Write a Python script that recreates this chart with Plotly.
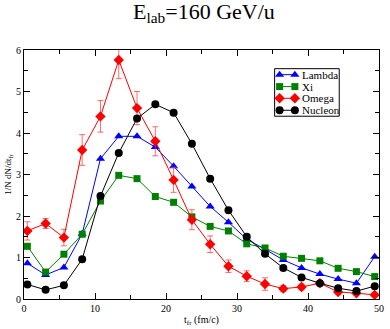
import plotly.graph_objects as go

# time bins (fm/c)
t_fr = [0.47 + 2.575 * i for i in range(20)]

lambda_y = [0.86, 0.58, 0.76, 1.57, 3.38, 3.92, 3.92, 3.66, 3.20, 2.71,
            2.23, 1.85, 1.44, 1.20, 0.94, 0.75, 0.60, 0.48, 0.38, 1.02]
xi_y = [1.27, 0.65, 1.08, 1.56, 2.36, 2.98, 2.90, 2.47, 2.33, 1.98,
        1.75, 1.64, 1.33, 1.23, 1.03, 0.98, 0.92, 0.74, 0.66, 0.54]
omega_y = [1.64, 1.82, 1.48, 3.59, 4.40, 5.76, 4.60, 3.80, 2.87, 1.91,
           1.32, 0.79, 0.55, 0.36, 0.25, 0.29, 0.38, 0.17, 0.14, 0.10]
omega_err = [0.22, 0.12, 0.20, 0.37, 0.38, 0.45, 0.40, 0.35, 0.30, 0.24,
             0.20, 0.15, 0.13, 0.15, 0.07, 0.07, 0.05, 0.05, 0.03, 0.03]
nucleon_y = [0.35, 0.22, 0.33, 0.96, 2.48, 3.52, 4.35, 4.69, 4.49, 3.74,
             2.90, 2.14, 1.50, 1.09, 0.75, 0.52, 0.38, 0.26, 0.19, 0.31]

names = ["Lambda", "Xi", "Omega", "Nucleon"]
colors = ["#0000ff", "#008000", "#ff0000", "#000000"]
symbols = ["triangle-up", "square", "diamond", "circle"]
sizes = [8, 7, 8, 8]
series = [lambda_y, xi_y, omega_y, nucleon_y]

serif = "Liberation Serif, Times New Roman, serif"

fig = go.Figure()

for name, col, sym, sz, ys in zip(names, colors, symbols, sizes, series):
    err = None
    if name == "Omega":
        err = dict(type="data", array=omega_err, visible=True,
                   color="rgba(255,60,60,0.75)", thickness=1, width=3)
    fig.add_trace(go.Scatter(x=t_fr, y=ys, name=name, mode="lines+markers",
                             line=dict(color=col, width=1),
                             marker=dict(symbol=sym, size=sz, color=col),
                             error_y=err, showlegend=False))

# compact legend box (plotly's own legend rows are too tall for this one)
# drawn on a hidden overlay axis that spans the plot area 0..1
leg_x0, leg_x1 = 0.706, 0.888
leg_top, leg_bot = 0.925, 0.734
row_y = [0.901, 0.853, 0.806, 0.758]
sample_x = [0.72, 0.763]
label_x = 0.778

fig.add_shape(type="rect", xref="paper", yref="paper",
              x0=leg_x0, x1=leg_x1, y0=leg_bot, y1=leg_top,
              line=dict(color="black", width=1), fillcolor="white", layer="below")
for name, col, sym, sz, ry in zip(names, colors, symbols, sizes, row_y):
    fig.add_trace(go.Scatter(x=sample_x, y=[ry, ry], mode="lines+markers",
                             xaxis="x2", yaxis="y2", showlegend=False, hoverinfo="skip",
                             line=dict(color=col, width=1),
                             marker=dict(symbol=sym, size=sz, color=col)))
    fig.add_annotation(x=label_x, y=ry, xref="paper", yref="paper", text=name,
                       showarrow=False, xanchor="left", yanchor="middle",
                       font=dict(family=serif, size=11, color="black"))

axis_common = dict(
    showline=True, linecolor="black", linewidth=1, mirror="allticks",
    ticks="inside", ticklen=6, tickcolor="black", showgrid=False, zeroline=False,
    tickfont=dict(family=serif, size=10, color="black"),
)

fig.update_xaxes(range=[0, 50], dtick=10, tick0=0,
                 minor=dict(dtick=5, ticklen=4, ticks="inside", tickcolor="black"),
                 title=dict(text="t<sub>fr</sub> (fm/c)", standoff=2,
                            font=dict(family=serif, size=10, color="black")),
                 **axis_common)
fig.update_yaxes(range=[0, 6], dtick=1, tick0=0,
                 minor=dict(dtick=0.5, ticklen=4, ticks="inside", tickcolor="black"),
                 title=dict(text="1/N dN/dt<sub>fr</sub>", standoff=2,
                            font=dict(family=serif, size=9, color="black")),
                 **axis_common)

fig.update_layout(
    width=390, height=329,
    margin=dict(l=24, r=6, t=50, b=27),
    paper_bgcolor="white", plot_bgcolor="white",
    title=dict(text="E<sub>lab</sub>=160 GeV/u", x=0.523, xanchor="center",
               y=0.99, yanchor="top",
               font=dict(family=serif, size=22, color="black")),
    xaxis2=dict(overlaying="x", range=[0, 1], visible=False, fixedrange=True),
    yaxis2=dict(overlaying="y", range=[0, 1], visible=False, fixedrange=True),
    showlegend=False,
)

# drop the default page margin so the figure sits at the window's corner
fig.write_html("out.html", config={"displayModeBar": False},
               post_script="document.body.style.margin='0';")
